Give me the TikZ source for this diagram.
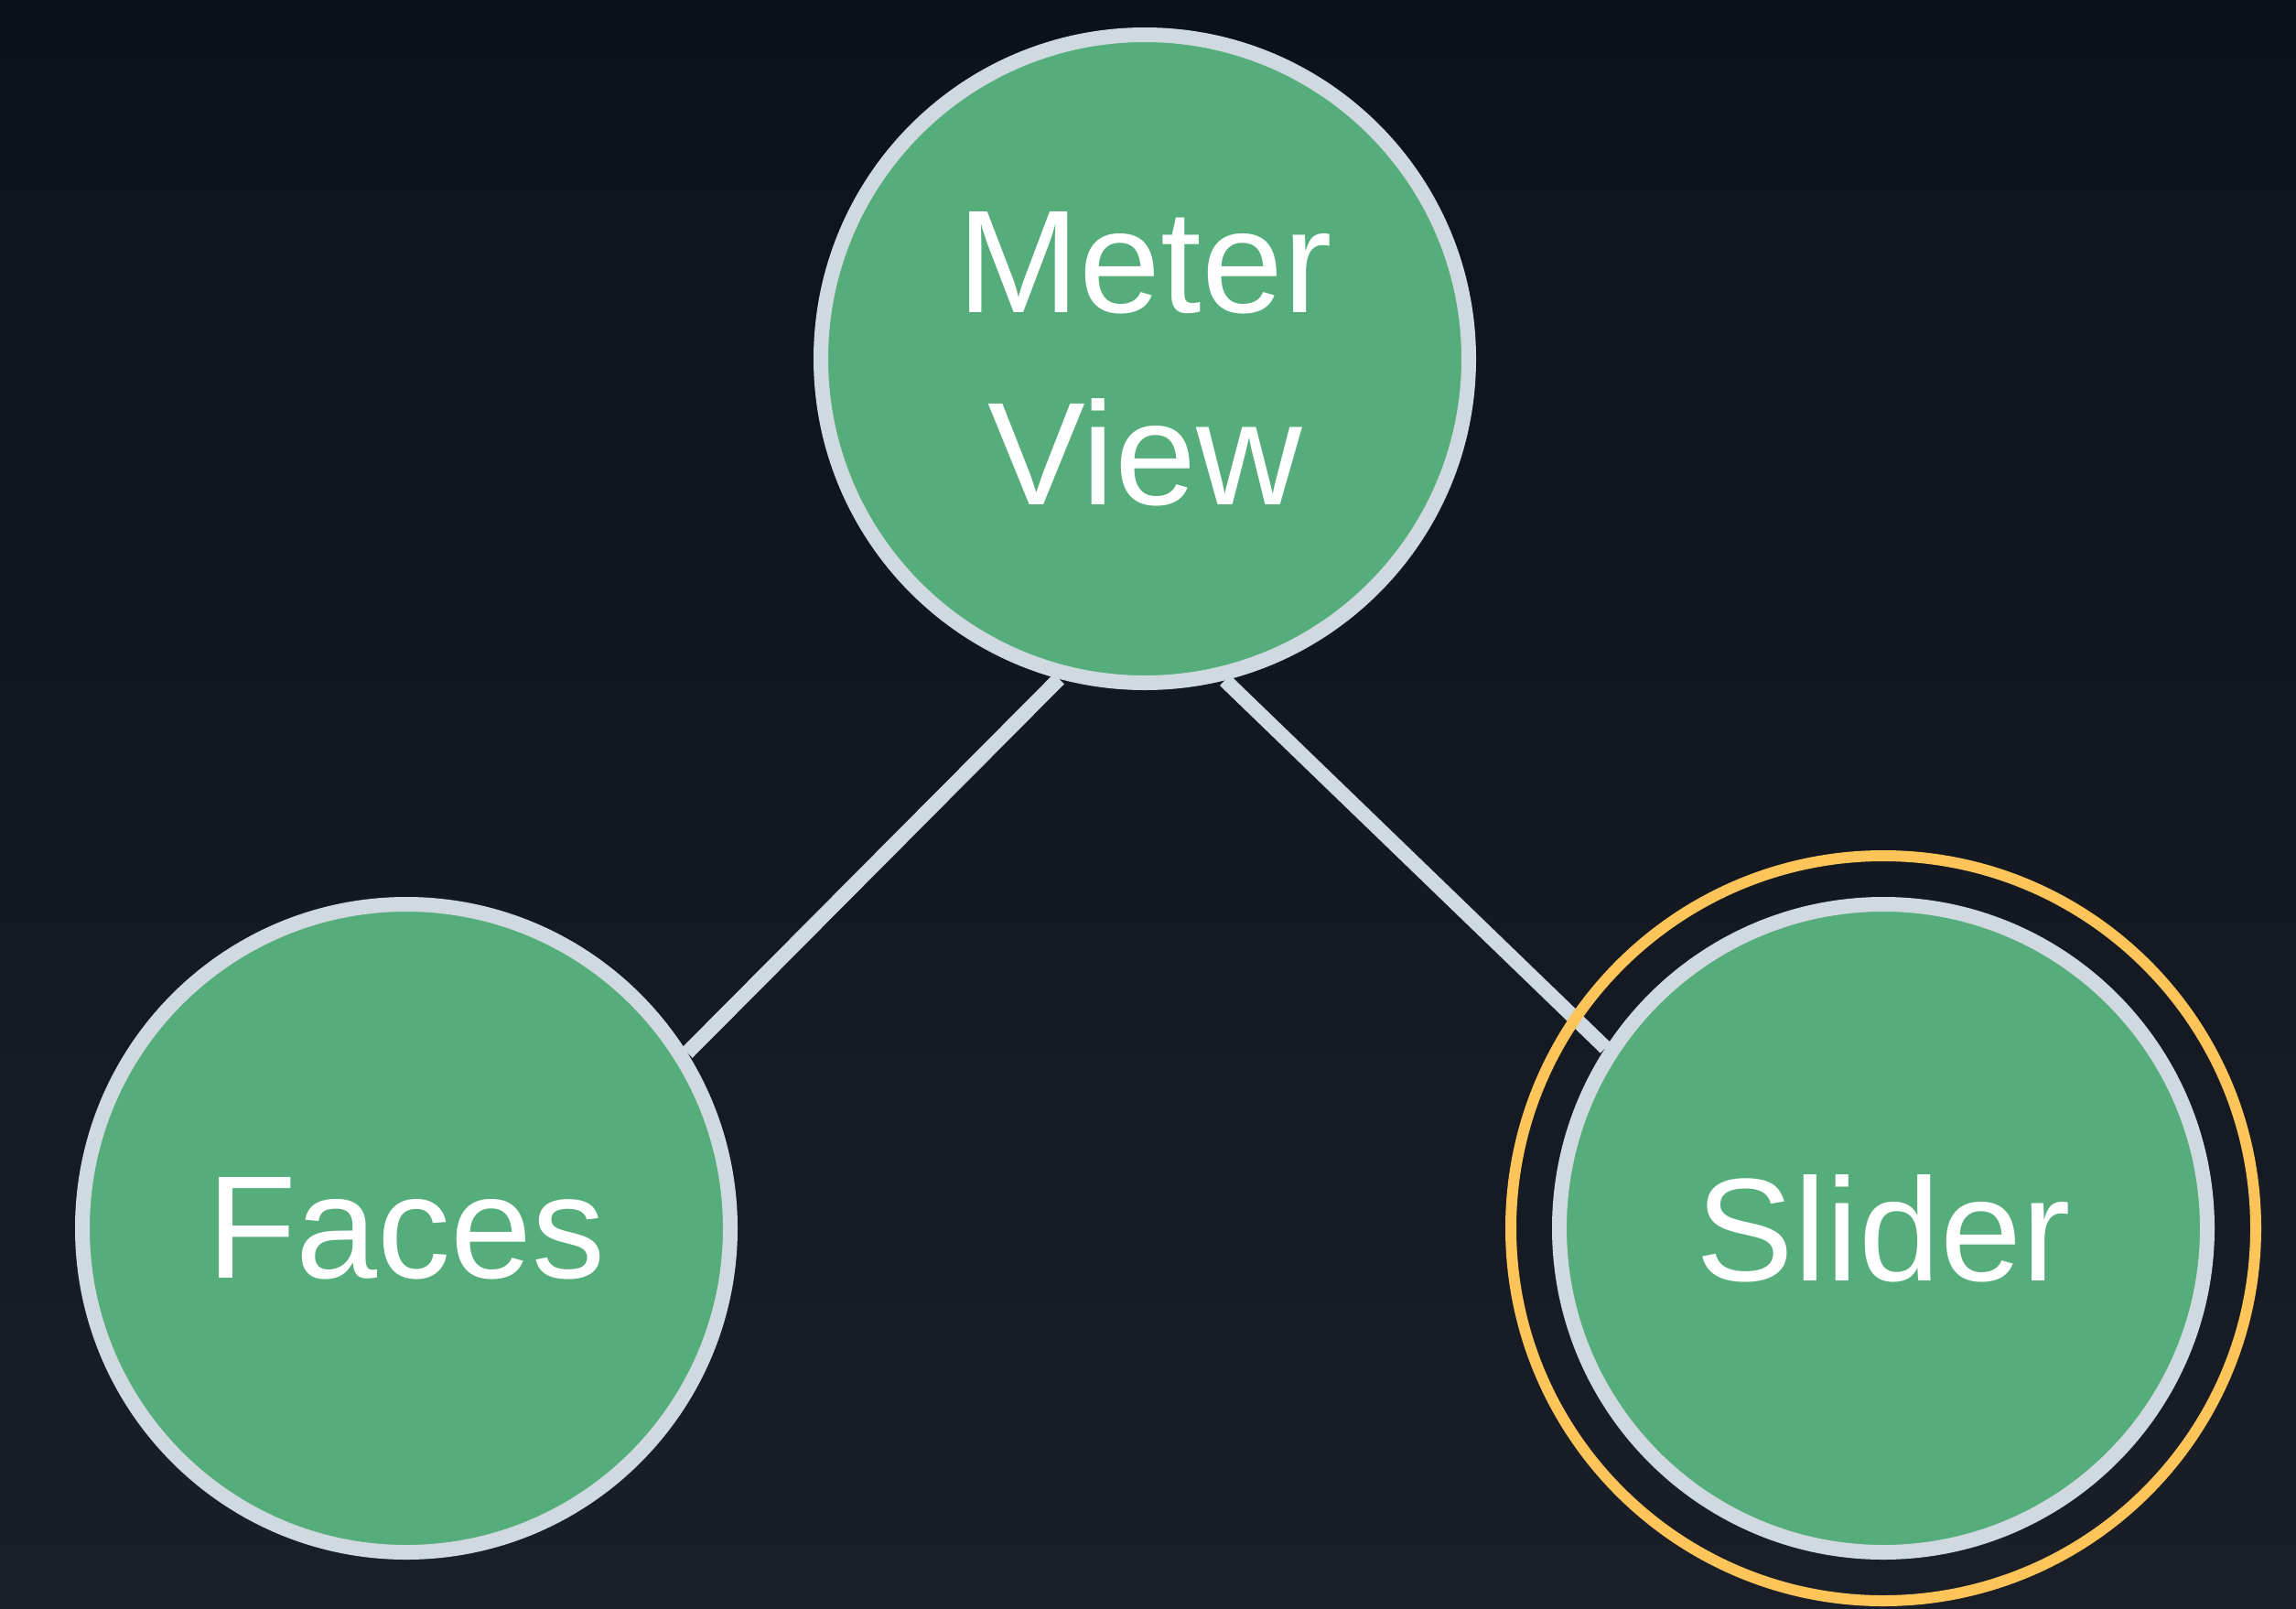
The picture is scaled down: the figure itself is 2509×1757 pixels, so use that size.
\documentclass[tikz,border=0pt]{standalone}
\usepackage{xcolor}
\usepackage{tikz}
\usepackage{fontspec}
\setmainfont{Liberation Sans}
\usetikzlibrary{positioning, backgrounds, calc}
\definecolor{nodegreen}{HTML}{55AD7B}
\definecolor{ringgrey}{HTML}{D1D9E0}
\definecolor{focusorange}{HTML}{FDC45A}
\definecolor{bgtop}{HTML}{0C111A}
\definecolor{bgbottom}{HTML}{1A1F27}
\tikzstyle{component} = [circle, minimum size=708pt, inner sep=0pt, draw=ringgrey, line width=16pt, fill=nodegreen, text=white, align=center, font=\fontsize{160pt}{210pt}\selectfont]
\tikzstyle{focusring} = [circle, minimum size=814pt, inner sep=0pt, draw=focusorange, line width=12pt]
\tikzstyle{link} = [line width=16pt, draw=ringgrey]

\begin{document}
\begin{tikzpicture}[x=1pt, y=-1pt, node distance=950pt and 807pt, on grid]
    \useasboundingbox (0,0) rectangle (2509,1757);
    \node[component] (meter) at (1251,392) {Meter\\View};
    \node[component, below left=of meter] (faces) {Faces};
    \node[component, below right=of meter] (slider) {Slider};

    \begin{pgfonlayer}{background}
        \shade[top color=bgtop, bottom color=bgbottom] (0,0) rectangle (2509,1757);
        \draw[link] (meter.255.3) -- (faces.32.6);
        \draw[link] (meter.284.5) -- (slider.147.3);
    \end{pgfonlayer}

    % selection ring
    \node[focusring] (sliderring) at (slider) {};
\end{tikzpicture}
\end{document}
